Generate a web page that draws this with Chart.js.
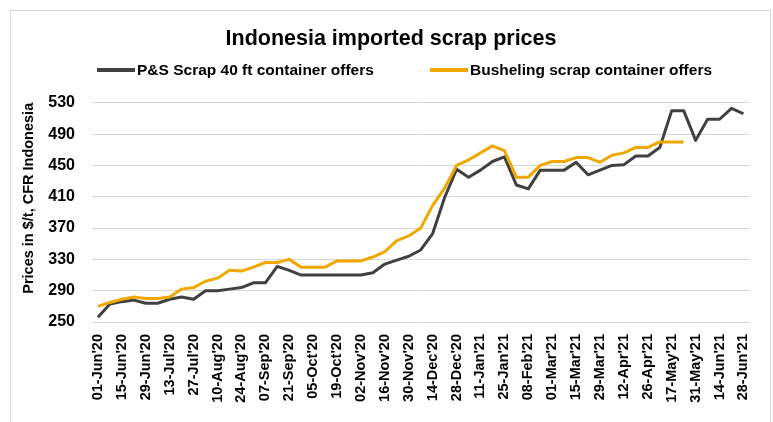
<!DOCTYPE html>
<html><head><meta charset="utf-8">
<script src="https://cdn.jsdelivr.net/npm/chart.js@4.4.1/dist/chart.umd.min.js"></script>
<style>html,body{margin:0;padding:0;background:#fff;}canvas{display:block;}</style>
</head><body>
<canvas id="c" width="773" height="422"></canvas>
<script>
const categories = ["01-Jun'20","08-Jun'20","15-Jun'20","22-Jun'20","29-Jun'20","06-Jul'20","13-Jul'20","20-Jul'20","27-Jul'20","03-Aug'20","10-Aug'20","17-Aug'20","24-Aug'20","31-Aug'20","07-Sep'20","14-Sep'20","21-Sep'20","28-Sep'20","05-Oct'20","12-Oct'20","19-Oct'20","26-Oct'20","02-Nov'20","09-Nov'20","16-Nov'20","23-Nov'20","30-Nov'20","07-Dec'20","14-Dec'20","21-Dec'20","28-Dec'20","04-Jan'21","11-Jan'21","18-Jan'21","25-Jan'21","01-Feb'21","08-Feb'21","22-Feb'21","01-Mar'21","08-Mar'21","15-Mar'21","22-Mar'21","29-Mar'21","05-Apr'21","12-Apr'21","19-Apr'21","26-Apr'21","03-May'21","17-May'21","24-May'21","31-May'21","07-Jun'21","14-Jun'21","21-Jun'21","28-Jun'21"];
const psScrap = [256,273,276,278,274,274,279,282,279,290,290,292,294,300,300,321,316,310,310,310,310,310,310,313,324,329,334,342,363,409,445,435,444,455,461,425,420,444,444,444,454,438,444,450,451,462,462,473,520,520,482,509,509,523,516];
const busheling = [270,275,279,282,280,280,282,292,294,302,306,316,315,320,326,326,330,320,320,320,328,328,328,333,340,354,360,370,399,421,450,457,466,475,469,435,435,450,455,455,460,460,454,463,466,473,473,480,480,480,null,null,null,null,null];
const yTicks = [250,290,330,370,410,450,490,530];
const seriesNames = ["P&S Scrap 40 ft container offers","Busheling scrap container offers"];
const chartTitle = "Indonesia imported scrap prices";
const yTitle = "Prices in $/t, CFR Indonesia";

const FONT = "'Liberation Sans', Arial, sans-serif";
const C_DARK = '#404040', C_GOLD = '#F0A800';

const framePlugin = {
  id: 'frame',
  beforeDraw(chart) {
    const ctx = chart.ctx; ctx.save();
    ctx.fillStyle = '#fff'; ctx.fillRect(0, 0, chart.width, chart.height);
    ctx.strokeStyle = '#d9d9d9'; ctx.lineWidth = 1;
    ctx.strokeRect(10.5, 10.5, 760, 430);
    ctx.restore();
  }
};

const legendPlugin = {
  id: 'customLegend',
  afterDraw(chart) {
    const ctx = chart.ctx; ctx.save();
    const starts = [97, 430], y = 70;
    chart.data.datasets.forEach((ds, i) => {
      const x = starts[i];
      ctx.strokeStyle = ds.borderColor; ctx.lineWidth = 4; ctx.lineCap = 'butt';
      ctx.beginPath(); ctx.moveTo(x, y); ctx.lineTo(x + 38, y); ctx.stroke();
      ctx.fillStyle = '#000'; ctx.font = 'bold 15.5px ' + FONT;
      ctx.textBaseline = 'middle'; ctx.textAlign = 'left';
      ctx.fillText(ds.label, x + 40, y + 1);
    });
    ctx.restore();
  }
};

new Chart(document.getElementById('c'), {
  type: 'line',
  data: {
    labels: categories,
    datasets: [
      { label: seriesNames[0], data: psScrap, borderColor: C_DARK, backgroundColor: C_DARK, borderWidth: 3, pointRadius: 0, tension: 0, borderJoinStyle: 'round', order: 2 },
      { label: seriesNames[1], data: busheling, borderColor: C_GOLD, backgroundColor: C_GOLD, borderWidth: 3, pointRadius: 0, tension: 0, borderJoinStyle: 'round', order: 1, spanGaps: false }
    ]
  },
  options: {
    responsive: false,
    animation: false,
    devicePixelRatio: 1,
    layout: { padding: { left: 25, right: 16, top: 0, bottom: 0 } },
    plugins: {
      legend: { display: false },
      tooltip: { enabled: false },
      title: {
        display: true, text: chartTitle, color: '#000',
        font: { family: FONT, size: 21.5, weight: 'bold' },
        padding: { top: 26, bottom: 51 }
      }
    },
    scales: {
      x: {
        type: 'category', offset: true,
        grid: { display: false, drawTicks: false },
        border: { display: false },
        ticks: {
          autoSkip: false, minRotation: 90, maxRotation: 90, padding: 12, color: '#000',
          font: { family: FONT, size: 14.5, weight: 'bold' },
          callback: (v, i) => (i % 2 === 0 ? categories[i] : '')
        },
        afterFit: s => { s.height = 100; }
      },
      y: {
        min: 250, max: 530,
        afterBuildTicks: s => { s.ticks = yTicks.map(v => ({ value: v })); },
        grid: { color: '#d9d9d9', lineWidth: 1, drawTicks: false },
        border: { display: false },
        ticks: { padding: 17, color: '#000', font: { family: FONT, size: 16, weight: 'bold' } },
        title: {
          display: true, text: yTitle, color: '#000', align: 'end',
          font: { family: FONT, size: 14.5, weight: 'bold' },
          padding: { top: -5, bottom: 0 }
        },
        afterFit: s => { s.width = 67; }
      }
    }
  },
  plugins: [framePlugin, legendPlugin]
});
</script>
</body></html>
